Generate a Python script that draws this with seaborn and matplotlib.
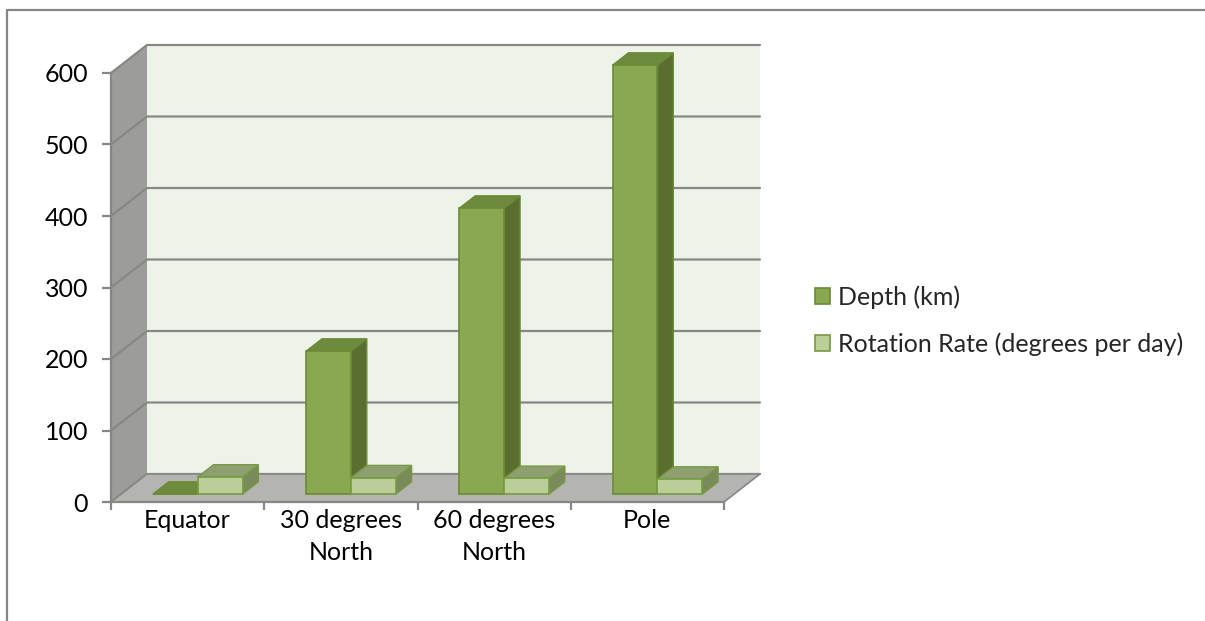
import numpy as np
import pandas as pd
import matplotlib
matplotlib.use("Agg")
import matplotlib.pyplot as plt
import seaborn as sns
from matplotlib.patches import Polygon, Patch
from matplotlib.transforms import ScaledTranslation, IdentityTransform
from matplotlib.lines import Line2D

# ---- data -------------------------------------------------------------
locations = ["Equator", "30 degrees\nNorth", "60 degrees\nNorth", "Pole"]
series_names = ["Depth (km)", "Rotation Rate (degrees per day)"]
depth_km = [0, 200, 400, 600]
rotation_rate = [24, 23, 22, 21]
y_ticks = [0, 100, 200, 300, 400, 500, 600]

df = pd.DataFrame({
    "Location": locations * 2,
    "Value": depth_km + rotation_rate,
    "Series": [series_names[0]] * len(locations) + [series_names[1]] * len(locations),
})

# ---- style ------------------------------------------------------------
sns.set_theme(style="white")
plt.rcParams["font.family"] = ["Lato", "DejaVu Sans"]

FS = 18
GRID = "#878787"
WALL_BACK = "#EEF3E9"
WALL_SIDE = "#9C9D98"
FLOOR = "#B4B5B0"
FACE = {series_names[0]: "#8AA84F", series_names[1]: "#BACF98"}
TOP = {series_names[0]: "#6E8B3D", series_names[1]: "#8E9F70"}
SIDE = {series_names[0]: "#5A6E30", series_names[1]: "#798A5B"}
EDGE = {series_names[0]: "#6A8A36", series_names[1]: "#779A42"}

W, H, DPI = 1205, 621, 100
fig = plt.figure(figsize=(W / DPI, H / DPI), dpi=DPI)
fig.patch.set_facecolor("white")

# front plane of the 3-D box
ax = fig.add_axes([111 / W, 1 - 502 / H, 613 / W, 429 / H])
ax.patch.set_visible(False)

# ---- bars (front faces) -----------------------------------------------
sns.barplot(
    data=df, x="Location", y="Value", hue="Series",
    order=locations, hue_order=series_names,
    palette=[FACE[s] for s in series_names], saturation=1,
    width=0.585, dodge=True, errorbar=None, legend=False,
    linewidth=1.2, ax=ax,
)
ax.set_xlim(-0.5, len(locations) - 0.5)
ax.set_ylim(0, 600)
ax.set_xlabel("")
ax.set_ylabel("")

# receding (depth) axis, in pixels
DEPTH = np.array([36.0, 28.0])
BAR_D0, BAR_D1 = 0.28, 0.72


def proj(x, y, d):
    return ax.transData.transform((x, y)) + d * DEPTH


def face(points, color, z, ec=None, lw=0.0):
    poly = Polygon(np.array(points), closed=True, facecolor=color,
                   edgecolor=ec if ec else color, linewidth=lw,
                   transform=IdentityTransform(), zorder=z, clip_on=False)
    ax.add_artist(poly)


def edge_line(points, z):
    pts = np.array(points)
    ax.add_artist(Line2D(pts[:, 0], pts[:, 1], color=GRID, lw=1.6,
                         transform=IdentityTransform(), zorder=z, clip_on=False))


x_lo, x_hi = ax.get_xlim()
y_top = y_ticks[-1]

# walls and floor
face([proj(x_lo, 0, 0), proj(x_lo, 0, 1), proj(x_lo, y_top, 1), proj(x_lo, y_top, 0)], WALL_SIDE, 0.5)
face([proj(x_lo, 0, 1), proj(x_hi, 0, 1), proj(x_hi, y_top, 1), proj(x_lo, y_top, 1)], WALL_BACK, 0.5)
for v in y_ticks:
    edge_line([proj(x_lo, v, 0), proj(x_lo, v, 1), proj(x_hi, v, 1)], 1)
face([proj(x_lo, 0, 0), proj(x_hi, 0, 0), proj(x_hi, 0, 1), proj(x_lo, 0, 1)], FLOOR, 1.5,
     ec=GRID, lw=1.2)

# bar side and top faces, pushed back into the box
shift = ScaledTranslation(BAR_D0 * DEPTH[0] / DPI, BAR_D0 * DEPTH[1] / DPI, fig.dpi_scale_trans)
for k, (series, cont) in enumerate(zip(series_names, ax.containers)):
    z_face = 3 + 2 * k
    for patch in cont.patches:
        x0, w, h = patch.get_x(), patch.get_width(), patch.get_height()
        patch.set_transform(ax.transData + shift)
        patch.set_edgecolor(EDGE[series])
        patch.set_clip_on(False)
        patch.set_zorder(z_face + 1)
        face([proj(x0 + w, 0, BAR_D0), proj(x0 + w, h, BAR_D0),
              proj(x0 + w, h, BAR_D1), proj(x0 + w, 0, BAR_D1)],
             SIDE[series], z_face, ec=EDGE[series], lw=1.0)
        face([proj(x0, h, BAR_D0), proj(x0 + w, h, BAR_D0),
              proj(x0 + w, h, BAR_D1), proj(x0, h, BAR_D1)],
             TOP[series], z_face + 0.5, ec=EDGE[series], lw=1.0)

# ---- axes, ticks, labels ----------------------------------------------
for side in ("top", "right"):
    ax.spines[side].set_visible(False)
for side in ("left", "bottom"):
    ax.spines[side].set_color(GRID)
    ax.spines[side].set_linewidth(1.6)
    ax.spines[side].set_zorder(2)

ax.set_yticks(y_ticks)
ax.set_yticklabels([str(v) for v in y_ticks])
ax.set_xticks(range(len(locations)))
ax.set_xticklabels(locations, linespacing=1.5)
ax.set_xticks(np.arange(x_lo, x_hi + 0.01, 1.0), minor=True)
ax.tick_params(axis="y", left=True, length=6.5, width=1.6, color=GRID,
               pad=10, labelsize=FS, labelcolor="black")
ax.tick_params(axis="x", which="major", bottom=True, length=0, pad=5,
               labelsize=FS, labelcolor="black")
ax.tick_params(axis="x", which="minor", bottom=True, length=5.5, width=1.6, color=GRID)
ax.grid(False)

# ---- legend -------------------------------------------------------------
handles = [Patch(facecolor=FACE[s], edgecolor=EDGE[s], linewidth=1.2) for s in series_names]
fig.legend(handles, series_names, loc="upper left",
           bbox_to_anchor=(815 / W, 1 - 285 / H), frameon=False,
           handlelength=0.6, handleheight=0.6, handletextpad=0.3,
           labelspacing=0.95, fontsize=FS, borderpad=0, borderaxespad=0)

# chart-area frame
fig.add_artist(Line2D([7 / W, 1.0], [1 - 10 / H, 1 - 10 / H], color=GRID, lw=1.6,
                      transform=fig.transFigure))
fig.add_artist(Line2D([7 / W, 7 / W], [1 - 10 / H, 0.0], color=GRID, lw=1.6,
                      transform=fig.transFigure))

fig.savefig("out.png", dpi=DPI)
